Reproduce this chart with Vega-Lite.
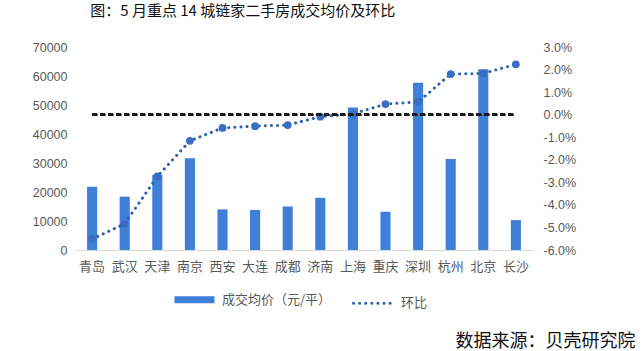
{
  "$schema": "https://vega.github.io/schema/vega-lite/v6.json",
  "autosize": "none",
  "width": 458,
  "height": 203,
  "padding": {"left": 75, "top": 47, "right": 108, "bottom": 101},
  "background": "white",
  "title": {
    "text": "图：5 月重点 14 城链家二手房成交均价及环比",
    "anchor": "start",
    "dx": 58,
    "offset": 22,
    "font": "Noto Sans CJK SC",
    "fontSize": 15,
    "fontWeight": "normal",
    "color": "#111111"
  },
  "data": {
    "values": [
      {"city": "青岛", "price": 21800, "mom": -0.0551},
      {"city": "武汉", "price": 18400, "mom": -0.0484},
      {"city": "天津", "price": 25900, "mom": -0.0274},
      {"city": "南京", "price": 31600, "mom": -0.0116},
      {"city": "西安", "price": 14000, "mom": -0.0059},
      {"city": "大连", "price": 13800, "mom": -0.0051},
      {"city": "成都", "price": 15000, "mom": -0.0046},
      {"city": "济南", "price": 18000, "mom": -0.0009},
      {"city": "上海", "price": 49100, "mom": 0.0003},
      {"city": "重庆", "price": 13200, "mom": 0.0047},
      {"city": "深圳", "price": 57700, "mom": 0.0056},
      {"city": "杭州", "price": 31400, "mom": 0.018},
      {"city": "北京", "price": 62300, "mom": 0.0183},
      {"city": "长沙", "price": 10300, "mom": 0.0223}
    ]
  },
  "encoding": {
    "x": {
      "field": "city",
      "type": "nominal",
      "sort": null,
      "scale": {"paddingInner": 0.69, "paddingOuter": 0.37},
      "axis": {
        "labelAngle": 0,
        "ticks": false,
        "domainColor": "#d9d9d9",
        "labelColor": "#595959",
        "labelFontSize": 13,
        "labelFont": "Noto Sans CJK SC",
        "labelPadding": 10,
        "title": "数据来源：贝壳研究院",
        "titleFont": "Noto Sans CJK SC",
        "titleFontSize": 18,
        "titleFontWeight": "normal",
        "titleColor": "#111111",
        "titleAlign": "right",
        "titleAnchor": "end",
        "titleX": 560,
        "titleY": 96,
        "titleBaseline": "alphabetic"
      }
    }
  },
  "layer": [
    {
      "mark": {"type": "bar", "color": "#3F7FD8"},
      "encoding": {
        "y": {
          "field": "price",
          "type": "quantitative",
          "scale": {"domain": [0, 70000], "nice": false},
          "axis": {
            "orient": "left",
            "title": null,
            "values": [0, 10000, 20000, 30000, 40000, 50000, 60000, 70000],
            "format": "d",
            "grid": false,
            "domain": false,
            "ticks": false,
            "labelColor": "#595959",
            "labelFontSize": 12.5,
            "labelFont": "Liberation Sans",
            "labelPadding": 8
          }
        },
        "color": {
          "datum": "成交均价（元/平）",
          "type": "nominal",
          "scale": {"domain": ["成交均价（元/平）", "环比"], "range": ["#3F7FD8", "#2F5FAA"]},
          "legend": {
            "title": null,
            "orient": "none",
            "direction": "horizontal",
            "legendX": 113,
            "legendY": 246,
            "symbolType": "stroke",
            "symbolSize": 1600,
            "symbolStrokeWidth": 6,
            "labelFontSize": 13,
            "labelFont": "Noto Sans CJK SC",
            "labelColor": "#595959",
            "columnPadding": 15,
            "labelOffset": 21,
            "encode": {
              "symbols": {
                "update": {
                  "strokeWidth": {"signal": "datum.label === '环比' ? 3 : 7"},
                  "strokeDash": {"signal": "datum.label === '环比' ? [0.1, 6] : [1, 0]"},
                  "strokeCap": {"signal": "datum.label === '环比' ? 'round' : 'butt'"}
                }
              }
            }
          }
        }
      }
    },
    {
      "encoding": {
        "y": {
          "field": "mom",
          "type": "quantitative",
          "scale": {"domain": [-0.06, 0.03], "nice": false},
          "axis": {
            "orient": "right",
            "title": null,
            "values": [-0.06, -0.05, -0.04, -0.03, -0.02, -0.01, 0, 0.01, 0.02, 0.03],
            "format": ".1%",
            "labelExpr": "replace(datum.label, '−', '-')",
            "labelOverlap": false,
            "grid": false,
            "domain": false,
            "ticks": false,
            "labelColor": "#595959",
            "labelFontSize": 12.5,
            "labelFont": "Liberation Sans",
            "labelPadding": 10
          }
        }
      },
      "layer": [
        {
          "mark": {"type": "line", "strokeWidth": 3, "strokeDash": [0.1, 6], "strokeCap": "round"},
          "encoding": {
            "color": {"datum": "环比", "type": "nominal"}
          }
        },
        {
          "mark": {"type": "point", "filled": true, "opacity": 1, "size": 60, "color": "#3A6EC2"},
          "encoding": {}
        },
        {
          "mark": {"type": "rule", "color": "#1a1a1a", "strokeDash": [5, 3], "strokeWidth": 2},
          "encoding": {
            "x": {"datum": "青岛", "type": "nominal", "bandPosition": 0.5},
            "x2": {"datum": "长沙", "bandPosition": 0.5},
            "y": {
              "datum": 0,
              "type": "quantitative",
              "axis": {
                "orient": "right",
                "title": null,
                "values": [-0.06, -0.05, -0.04, -0.03, -0.02, -0.01, 0, 0.01, 0.02, 0.03],
                "format": ".1%",
                "labelExpr": "replace(datum.label, '−', '-')",
                "labelOverlap": false,
                "grid": false,
                "domain": false,
                "ticks": false,
                "labelColor": "#595959",
                "labelFontSize": 12.5,
                "labelFont": "Liberation Sans",
                "labelPadding": 10
              }
            }
          }
        }
      ]
    }
  ],
  "resolve": {"scale": {"y": "independent"}},
  "config": {"view": {"stroke": null}}
}
